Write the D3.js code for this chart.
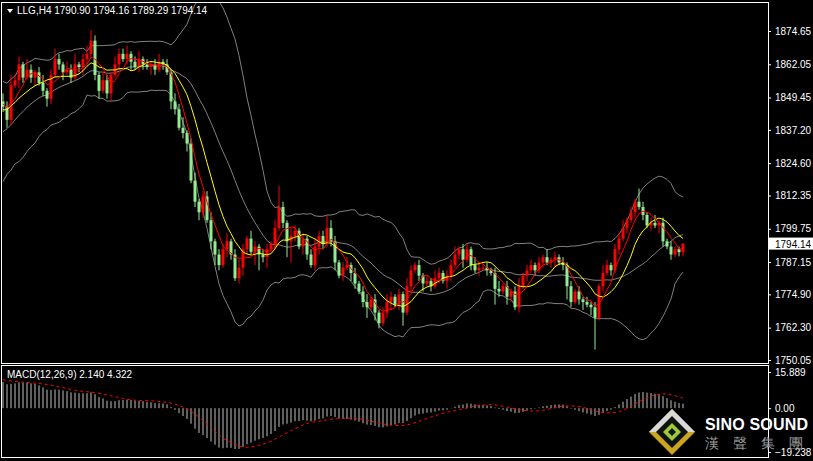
<!DOCTYPE html>
<html><head><meta charset="utf-8">
<script src="https://cdn.jsdelivr.net/npm/d3@7/dist/d3.min.js"></script>
<style>body{margin:0;background:#000}svg{display:block}text{font-family:"Liberation Sans",Arial,sans-serif}</style>
</head><body><svg id="c" width="813" height="461"></svg>
<script>
// prior history (before visible window) used only to warm up indicators
const prior = [1772,1776,1774,1779,1783,1781,1786,1790,1788,1793,1797,1795,1800,1804,1802,1806,1810,1808,1813,1817,1815,1819,1823,1821,1826,1829,1827,1832,1835,1833,1838,1841,1839,1843,1846,1844,1848,1845,1849,1847];
const closes = [1846,1841,1854,1856,1862,1857,1860,1857,1859,1855,1852,1849,1858,1864,1862,1859,1860,1857,1862,1861,
1864,1866,1871,1858,1852,1856,1851,1858,1862,1866,1864,1866,1863,1861,1864,1862,1861,1862,1860,1863,
1862,1859,1848,1845,1838,1836,1832,1818,1810,1806,1812,1803,1795,1790,1786,1792,1795,1790,1781,1785,
1792,1796,1791,1793,1790,1789,1792,1794,1800,1808,1802,1795,1797,1799,1793,1796,1790,1786,1793,1797,
1794,1800,1795,1787,1782,1785,1786,1783,1779,1776,1772,1770,1773,1768,1764,1768,1772,1774,1771,1775,
1768,1778,1784,1786,1782,1779,1780,1778,1781,1783,1780,1782,1786,1790,1792,1788,1792,1786,1784,1785,
1785,1784,1783,1777,1776,1778,1774,1776,1770,1778,1782,1784,1786,1784,1787,1789,1787,1788,1789,1787,
1786,1778,1772,1776,1773,1772,1771,1770,1766,1778,1783,1786,1784,1792,1796,1800,1803,1806,1810,1808,
1805,1801,1802,1801,1802,1795,1793,1790,1792,1790.90,1794.14];
const wickUp = [3,2,4,2,3,1,4,2,1,2,3,1,2,4,2,1,3,2,4,1,2,3,4,2,1,3,2,1,3,2,2,3,1,2,3,1,2,1,2,3,
1,2,1,3,2,4,1,2,3,1,2,2,3,1,2,2,3,1,2,3,2,1,3,2,1,2,2,1,3,8,2,1,3,2,1,2,1,2,3,2,
2,5,3,2,1,2,3,1,2,1,2,3,1,2,1,2,3,2,1,2,1,3,2,1,2,1,2,1,3,2,1,2,2,3,1,2,2,1,3,2,
1,2,1,2,3,1,2,1,2,3,1,2,2,1,2,1,3,1,2,1,2,1,2,1,2,1,2,1,2,1,3,2,1,2,2,3,1,2,1,5,
2,1,2,3,1,2,1,2,1,1,0];
const wickDn = [2,3,2,1,3,2,1,2,3,1,2,3,2,1,2,3,1,2,1,2,3,2,1,2,3,1,2,3,1,2,1,2,3,1,2,2,1,3,2,1,
2,1,3,2,1,2,3,1,2,3,2,1,3,4,2,1,3,2,1,2,3,2,1,5,6,2,4,1,2,1,2,6,8,2,1,3,2,1,2,3,
2,1,2,3,1,2,1,3,2,1,2,4,1,3,2,1,2,3,1,2,5,1,2,1,2,3,1,2,1,2,1,3,2,1,2,3,1,2,1,2,
1,2,1,6,2,1,3,2,1,2,1,2,1,2,1,2,1,2,3,1,2,5,2,1,2,3,1,3,12,1,2,1,2,1,2,1,2,1,2,1,
2,1,2,1,3,2,1,2,1,1.6,1];
const priceTicks = [1874.65,1862.05,1849.45,1837.20,1824.60,1812.35,1799.75,1787.15,1774.90,1762.30,1750.05];
const macdTicks = [15.889,0.00,-19.238];

const svg=d3.select("#c");
const n=closes.length;
const all=prior.concat(closes);
const off=prior.length;
const opens=closes.map((c,i)=>i===0?prior[prior.length-1]+1:closes[i-1]);
const highs=closes.map((c,i)=>Math.max(c,opens[i])+wickUp[i]);
const lows=closes.map((c,i)=>Math.min(c,opens[i])-wickDn[i]);
highs[n-1]=1794.16; lows[n-1]=1789.29;

const x=d3.scaleLinear().domain([0,n-1]).range([3,683]);
const y=d3.scaleLinear().domain([1750.05,1874.65]).range([360,31]);
const ym=d3.scaleLinear().domain([-19.238,15.889]).range([452,372]);

function sma(arr,p,i){let s=0;for(let k=i-p+1;k<=i;k++)s+=arr[k];return s/p;}
function ema(arr,p){const a=2/(p+1);const r=[arr[0]];for(let i=1;i<arr.length;i++)r.push(r[i-1]+a*(arr[i]-r[i-1]));return r;}
const idx=d3.range(n);
const ma5=idx.map(i=>sma(all,5,i+off));
const ma10=idx.map(i=>sma(all,10,i+off));
const bb=idx.map(i=>{const m=sma(all,20,i+off);let v=0;for(let k=i+off-19;k<=i+off;k++)v+=(all[k]-m)**2;const s=Math.sqrt(v/20);return [m+2*s,m,m-2*s];});
const e12=ema(all,12),e26=ema(all,26);
const macdAll=all.map((v,i)=>e12[i]-e26[i]);
const macd=idx.map(i=>macdAll[i+off]);
const sig=idx.map(i=>sma(macdAll,9,i+off));

svg.append("rect").attr("width",813).attr("height",461).attr("fill","#000");
const main=svg.append("g");
main.append("clipPath").attr("id","cp").append("rect").attr("x",1).attr("y",3).attr("width",767).attr("height",360);
const g=main.append("g").attr("clip-path","url(#cp)");
const line=d3.line().x((d,i)=>x(i)).y(d=>y(d));
[0,1,2].forEach(k=>g.append("path").attr("d",line(bb.map(b=>b[k]))).attr("fill","none").attr("stroke","#808080").attr("stroke-width",1));
g.selectAll(".w").data(idx).join("line").attr("x1",i=>x(i)).attr("x2",i=>x(i)).attr("y1",i=>y(highs[i])).attr("y2",i=>y(lows[i]))
 .attr("stroke",i=>closes[i]>=opens[i]?"#ff0000":"#90ee90");
g.selectAll(".b").data(idx).join("rect").attr("x",i=>x(i)-1.5).attr("width",3)
 .attr("y",i=>y(Math.max(opens[i],closes[i]))).attr("height",i=>Math.max(1,Math.abs(y(opens[i])-y(closes[i]))))
 .attr("fill",i=>closes[i]>=opens[i]?"#ff0000":"#90ee90");
g.append("path").attr("d",line(ma10)).attr("fill","none").attr("stroke","#ffff00").attr("stroke-width",1);
g.append("path").attr("d",line(ma5)).attr("fill","none").attr("stroke","#ff0000").attr("stroke-width",1);

svg.append("rect").attr("x",1.5).attr("y",2.5).attr("width",767).attr("height",361).attr("fill","none").attr("stroke","#fff");
svg.append("rect").attr("x",1.5).attr("y",365.5).attr("width",767).attr("height",92).attr("fill","none").attr("stroke","#fff");

const ax=svg.append("g").attr("transform","translate(768,0)").call(d3.axisRight(y).tickValues(priceTicks).tickFormat(d3.format(".2f")).tickSize(3));
ax.select(".domain").remove();
ax.selectAll("line").attr("stroke","#fff");
ax.selectAll("text").attr("fill","#fff").attr("font-size",10).attr("x",7).attr("font-family","Liberation Sans");
const last=closes[n-1];
svg.append("rect").attr("x",769).attr("y",y(last)-6).attr("width",44).attr("height",12).attr("fill","#fff");
svg.append("text").attr("x",775).attr("y",y(last)+4).attr("font-size",10).attr("fill","#000").text(last.toFixed(2));

const mg=svg.append("g");
mg.selectAll(".h").data(idx).join("line").attr("x1",i=>x(i)).attr("x2",i=>x(i)).attr("y1",ym(0)).attr("y2",i=>ym(macd[i])).attr("stroke","#c0c0c0");
mg.append("path").attr("d",d3.line().x((d,i)=>x(i)).y(d=>ym(d))(sig)).attr("fill","none").attr("stroke","#ff0000").attr("stroke-dasharray","3,3");
const max=svg.append("g").attr("transform","translate(768,0)").call(d3.axisRight(ym).tickValues(macdTicks).tickFormat(d=>d===0?"0.00":d3.format(".3f")(d)).tickSize(3));
max.select(".domain").remove();
max.selectAll("line").attr("stroke","#fff");
max.selectAll("text").attr("fill","#fff").attr("font-size",10).attr("x",7).attr("font-family","Liberation Sans");

svg.append("path").attr("d","M7,9 L13,9 L10,13 Z").attr("fill","#fff");
svg.append("text").attr("x",17).attr("y",14).attr("font-size",10).attr("fill","#fff").text("LLG,H4  1790.90 1794.16 1789.29 1794.14");
svg.append("text").attr("x",7).attr("y",378).attr("font-size",10).attr("fill","#fff").text("MACD(12,26,9) 2.140 4.322");

const lg=svg.append("g").attr("transform","translate(672,432)");
lg.append("path").attr("d","M0,-23 L23,0 L0,23 L-23,0 Z").attr("fill","#c9a820");
lg.append("path").attr("d","M0,-23 L23,0 L0,0 L-23,0 Z").attr("fill","#d8d8d8");
lg.append("path").attr("d","M0,-16 L16,0 L0,16 L-16,0 Z").attr("fill","#111");
lg.append("path").attr("d","M0,-9 L9,0 L0,9 L-9,0 Z").attr("fill","#9acd32");
lg.append("path").attr("d","M0,-4 L4,0 L0,4 L-4,0 Z").attr("fill","#111");
svg.append("text").attr("x",705).attr("y",430).attr("font-size",16).attr("font-weight","bold").attr("fill","#fff").attr("textLength",103).text("SINO SOUND");
svg.append("text").attr("x",705).attr("y",448).attr("font-size",14).attr("fill","#999").attr("font-family","Noto Sans CJK TC").attr("letter-spacing",14).text("漢聲集團");
</script></body></html>
